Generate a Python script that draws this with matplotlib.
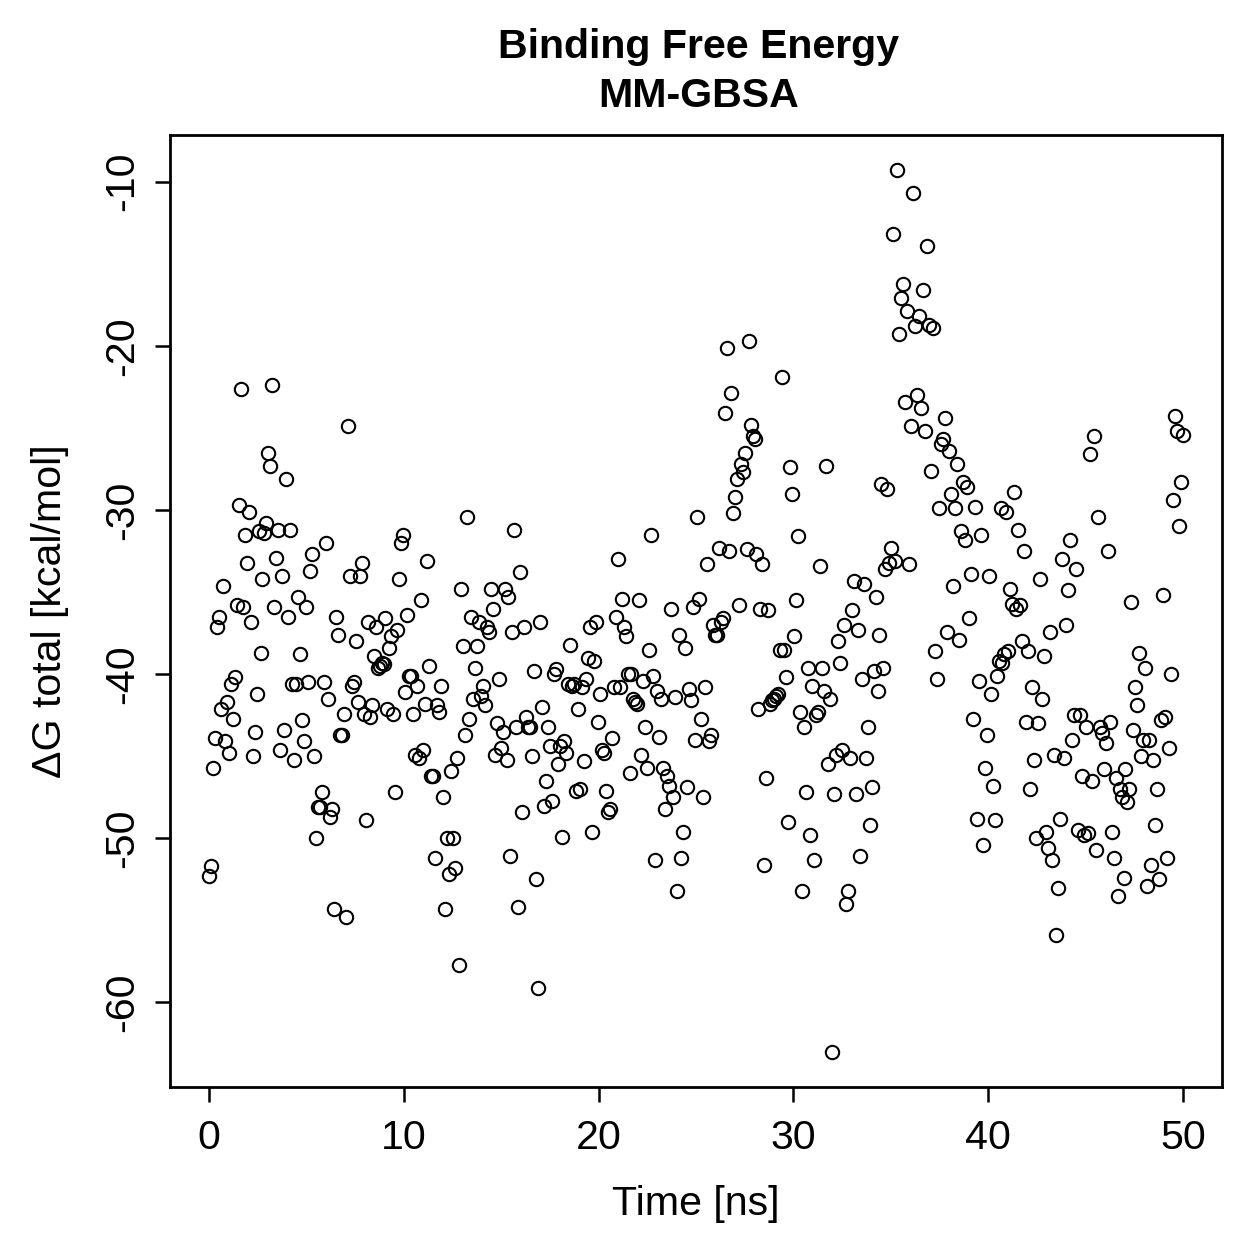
import matplotlib
matplotlib.use("Agg")
import matplotlib.pyplot as plt
import numpy as np

# dG total per frame (0.1 ns per frame, 0-50 ns)
dg_0_5 = [-52.3, -51.7, -45.7, -43.9, -37.1, -36.5, -42.1, -34.6, -44.1, -41.7,
          -44.8, -40.6, -42.7, -40.2, -35.8, -29.7, -22.6, -35.9, -31.5, -33.2,
          -30.1, -36.8, -45.0, -43.5, -41.2, -31.3, -38.7, -34.2, -31.4, -30.8,
          -26.5, -27.3, -22.4, -35.9, -32.9, -31.2, -44.6, -34.0, -43.4, -28.1,
          -36.5, -31.2, -40.6, -45.2, -40.6, -35.3, -38.8, -42.8, -44.1, -35.9]
dg_5_10 = [-40.5, -33.7, -32.7, -45.0, -50.0, -48.1, -48.1, -47.2, -40.5, -32.0,
           -41.5, -48.7, -48.2, -54.3, -36.5, -37.6, -43.7, -43.7, -42.4, -54.8,
           -24.9, -34.0, -40.7, -40.5, -38.0, -41.7, -34.0, -33.2, -42.4, -48.9,
           -36.8, -42.6, -41.9, -38.9, -37.1, -39.6, -39.5, -39.3, -39.4, -36.6,
           -42.1, -38.4, -37.7, -42.4, -47.2, -37.3, -34.2, -32.0, -31.5, -41.1]
dg_10_15 = [-36.4, -40.1, -40.1, -42.4, -44.9, -40.7, -45.1, -35.5, -44.6, -41.8,
            -33.1, -39.5, -46.2, -46.2, -51.2, -41.9, -42.3, -40.7, -47.5, -54.3,
            -50.0, -52.2, -45.9, -50.0, -51.8, -45.1, -57.7, -34.8, -38.3, -43.7,
            -30.4, -42.7, -36.5, -41.5, -39.6, -38.3, -36.8, -41.3, -40.7, -41.9,
            -37.1, -37.4, -34.8, -36.0, -44.9, -43.0, -40.3, -44.5, -43.5]
dg_15_20 = [-34.8, -45.2, -35.3, -51.1, -37.4, -31.2, -43.2, -54.2, -33.8, -48.4,
            -37.1, -42.6, -43.2, -43.2, -45.0, -39.8, -52.5, -59.1, -36.8, -42.0,
            -48.0, -46.5, -43.2, -44.4, -47.7, -40.0, -39.7, -45.5, -44.4, -49.9,
            -44.1, -44.8, -40.6, -38.2, -40.7, -40.6, -47.1, -42.1, -47.0, -40.8,
            -45.3, -40.3, -39.0, -37.1, -49.6, -39.2, -36.8, -42.9, -41.2]
dg_20_25 = [-44.6, -44.8, -47.1, -48.4, -48.2, -43.9, -40.8, -36.5, -33.0, -40.8,
            -35.4, -37.1, -37.7, -40.0, -46.0, -40.0, -41.5, -41.7, -41.8, -35.5,
            -44.9, -40.4, -43.2, -45.7, -38.5, -31.5, -40.1, -51.3, -41.0, -43.8,
            -41.5, -45.7, -48.2, -46.2, -46.8, -36.0, -47.5, -41.4, -53.2, -37.6,
            -51.2, -49.6, -38.4, -46.9, -40.9, -41.6, -35.9, -44.0, -30.4]
dg_25_30 = [-35.4, -42.7, -47.5, -40.8, -33.3, -44.1, -43.7, -37.0, -37.6, -37.6,
            -32.3, -36.8, -36.6, -24.1, -20.1, -32.5, -22.9, -30.2, -29.2, -28.1,
            -35.8, -27.2, -27.7, -26.5, -32.4, -19.7, -24.8, -25.5, -25.7, -32.7,
            -42.1, -36.0, -33.3, -51.6, -46.3, -36.1, -41.8, -41.6, -41.5, -41.3,
            -41.2, -38.5, -21.9, -38.5, -40.2, -49.0, -27.4, -29.0, -37.7]
dg_30_35 = [-35.5, -31.6, -42.3, -53.2, -43.2, -47.2, -39.6, -49.8, -40.7, -51.3,
            -42.5, -42.3, -33.4, -39.6, -41.0, -27.3, -45.5, -41.5, -63.0, -47.3,
            -44.9, -38.0, -39.3, -44.6, -37.0, -54.0, -53.2, -45.1, -36.1, -34.3,
            -47.3, -37.3, -51.1, -40.3, -34.5, -45.1, -43.2, -49.2, -46.9, -39.8,
            -35.3, -41.0, -37.6, -28.4, -39.6, -33.6, -28.7, -33.2, -32.3, -13.2]
dg_35_40 = [-33.1, -9.3, -19.3, -17.1, -16.2, -23.4, -17.9, -33.3, -24.9, -10.7,
            -18.8, -23.0, -18.2, -23.8, -16.6, -25.2, -13.9, -18.7, -27.6, -18.9,
            -38.6, -40.3, -29.9, -26.0, -25.7, -24.4, -37.4, -26.4, -29.0, -34.6,
            -29.9, -27.2, -37.9, -31.3, -28.3, -31.8, -28.6, -36.6, -33.9, -42.7,
            -29.8, -48.8, -40.4, -31.5, -50.4, -45.7, -43.7, -34.0]
dg_40_45 = [-41.2, -46.8, -48.9, -40.1, -39.2, -29.9, -39.3, -38.8, -30.1, -38.6,
            -34.8, -35.7, -28.9, -36.0, -31.2, -35.8, -38.0, -32.5, -42.9, -38.6,
            -47.0, -40.8, -45.2, -50.0, -43.0, -34.2, -41.5, -38.9, -49.6, -50.6,
            -37.4, -51.3, -44.9, -55.9, -53.0, -48.8, -33.0, -45.1, -37.0, -34.9,
            -31.8, -44.0, -42.5, -33.6, -49.5, -42.5, -46.2, -49.8]
dg_45_50 = [-43.2, -49.7, -26.6, -46.5, -25.5, -50.7, -30.4, -43.2, -43.6, -45.8,
            -44.2, -32.5, -42.9, -49.6, -51.2, -46.3, -53.5, -47.0, -47.5, -52.4,
            -45.8, -47.8, -47.0, -35.6, -43.4, -40.8, -41.9, -38.7, -45.0, -44.0,
            -39.6, -52.9, -44.0, -51.6, -45.2, -49.2, -47.0, -52.5, -42.8, -35.2,
            -42.6, -51.2, -44.5, -40.0, -29.4, -24.3, -25.2, -31.0, -28.3, -25.4]

dg_total = np.array(dg_0_5 + dg_5_10 + dg_10_15 + dg_15_20 + dg_20_25 +
                    dg_25_30 + dg_30_35 + dg_35_40 + dg_40_45 + dg_45_50)
time_ns = np.linspace(0, 50, len(dg_total))

plt.rcParams['font.family'] = ['Liberation Sans', 'DejaVu Sans']
plt.rcParams['axes.unicode_minus'] = False

fig = plt.figure(figsize=(6.295, 6.295), dpi=200)
ax = fig.add_axes([0.135, 0.1366, 0.8356, 0.7562])

ax.plot(time_ns, dg_total, 'o', mfc='none', mec='black', ms=4.8, mew=0.75)

ax.set_xlim(-2, 52)
ax.set_ylim(-65.15, -7.15)
ax.set_xticks([0, 10, 20, 30, 40, 50])
ax.set_yticks([-10, -20, -30, -40, -50, -60])
ax.tick_params(direction='out', length=5.5, width=0.9, labelsize=14.8)
ax.tick_params(axis='x', pad=6)
ax.tick_params(axis='y', pad=5)
for lbl in ax.get_yticklabels():
    lbl.set_rotation(90)
    lbl.set_va('center')
for s in ax.spines.values():
    s.set_linewidth(1.0)

ax.set_xlabel('Time [ns]', fontsize=14.8, labelpad=10)
ax.set_ylabel('\u0394G total [kcal/mol]', fontsize=14.8, labelpad=12)
fig.text(0.555, 0.978, 'Binding Free Energy\nMM-GBSA', ha='center', va='top',
         fontsize=14.8, fontweight='bold', linespacing=1.38)

fig.savefig('out.png', dpi=200)
plt.close(fig)
